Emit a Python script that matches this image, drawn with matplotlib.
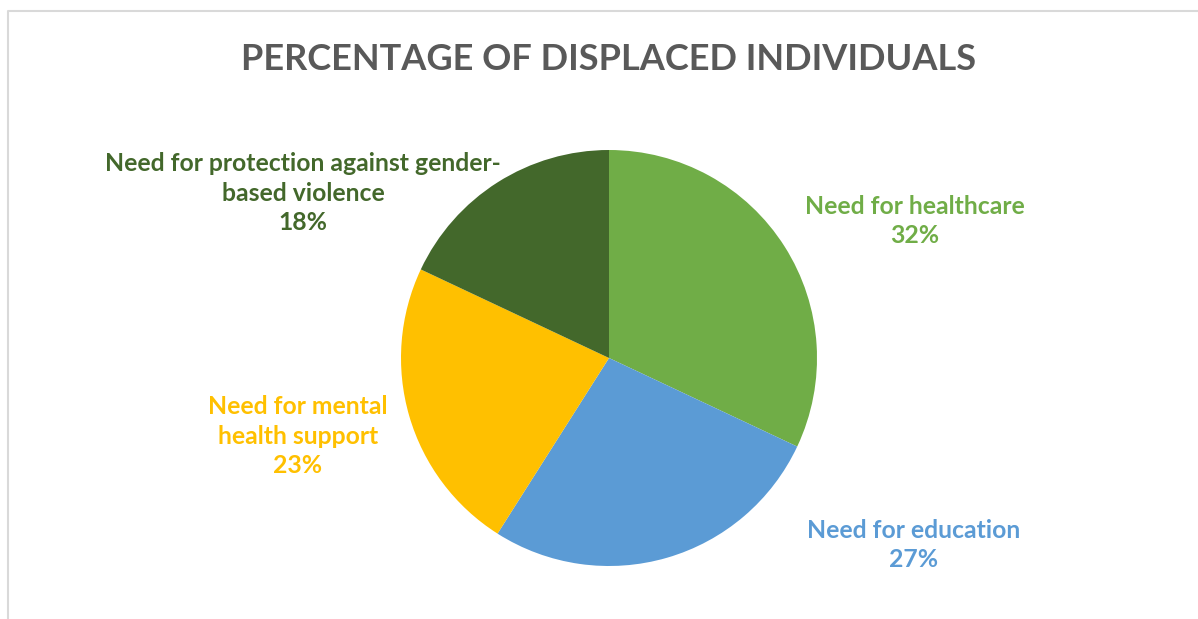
import matplotlib
matplotlib.use("Agg")
import matplotlib.pyplot as plt
from matplotlib.lines import Line2D

CATEGORIES = [
    "Need for healthcare",
    "Need for education",
    "Need for mental\nhealth support",
    "Need for protection against gender-\nbased violence",
]
SHARES = [32, 27, 23, 18]
COLORS = ["#70AD47", "#5B9BD5", "#FFC000", "#43682B"]
TITLE = "PERCENTAGE OF DISPLACED INDIVIDUALS"

# label centres in pixels (x, y from top) of the 1198x619 canvas
LABEL_PX = [(915, 221), (914, 545), (298, 436), (303, 193)]

W, H = 1198, 619
CX, CY, R = 609, 358, 208

plt.rcParams["font.family"] = ["Lato", "DejaVu Sans"]

fig = plt.figure(figsize=(W / 100, H / 100), dpi=100)
ax = fig.add_axes([(CX - R) / W, (H - CY - R) / H, 2 * R / W, 2 * R / H])
ax.pie(SHARES, colors=COLORS, startangle=90, counterclock=False, radius=1,
       wedgeprops=dict(linewidth=0))
ax.set_xlim(-1, 1)
ax.set_ylim(-1, 1)
ax.set_aspect("equal")
ax.axis("off")

for name, share, color, (px, py) in zip(CATEGORIES, SHARES, COLORS, LABEL_PX):
    x = (px - CX) / R
    y = (CY - py) / R
    ax.text(x, y, f"{name}\n{share}%", ha="center", va="center", color=color,
            fontsize=17.8, fontweight="bold", linespacing=1.34, clip_on=False)

fig.text(609 / W, 1 - 59 / H, TITLE, ha="center", va="center",
         fontsize=26, fontweight="bold", color="#595959")

# light grey chart-area border (only top and left edges visible)
fig.add_artist(Line2D([8 / W, 8 / W, 1], [0, 1 - 11 / H, 1 - 11 / H],
                      transform=fig.transFigure, color="#D9D9D9", linewidth=1.5))

fig.savefig("out.png", dpi=100, facecolor="white")
